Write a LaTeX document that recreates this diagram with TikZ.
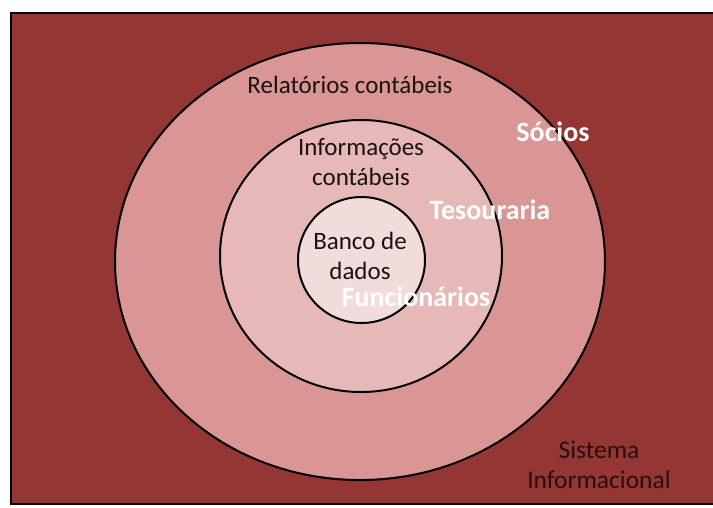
\documentclass[tikz,border=0pt]{standalone}
\usepackage{fontspec}
\setmainfont{Carlito}
\definecolor{bgred}{HTML}{943634}
\definecolor{ringA}{HTML}{D99694}
\definecolor{ringB}{HTML}{E6B9B8}
\definecolor{ringC}{HTML}{F2DCDB}
\definecolor{darktxt}{HTML}{1A1212}
\definecolor{systxt}{HTML}{2A0E0E}
\begin{document}
\begin{tikzpicture}[x=1pt,y=-1pt,
  ring/.style={draw=black,line width=2pt},
  lbl/.style={inner sep=0pt,align=center,text=darktxt,font=\fontsize{25}{30}\selectfont},
  wlbl/.style={inner sep=0pt,align=center,text=white,font=\fontsize{28}{30}\selectfont\bfseries}]
\useasboundingbox (0,0) rectangle (713,507);
\fill[white] (0,0) rectangle (713,507);
\draw[fill=bgred,line width=2pt] (11,13) rectangle (716,504);
\draw[ring,fill=ringA] (360,261.5) ellipse [x radius=245,y radius=218.5];
\draw[ring,fill=ringB] (361,256) ellipse [x radius=141,y radius=136];
\draw[ring,fill=ringC] (361.5,260) ellipse [x radius=63.5,y radius=63];
\node[lbl] (rel) at (350,85) {Relatórios contábeis};
\node[lbl] (inf) at (361,162) {Informações\\contábeis};
\node[lbl] (bd) at (360,256) {Banco de\\dados};
\node[wlbl] (soc) at (553,132) {Sócios};
\node[wlbl] (tes) at (490,210) {Tesouraria};
\node[wlbl] (fun) at (416,297) {Funcionários};
\node[lbl,text=systxt,font=\fontsize{25.5}{30}\selectfont] (sis) at (599,465) {Sistema\\Informacional};
\end{tikzpicture}
\end{document}
